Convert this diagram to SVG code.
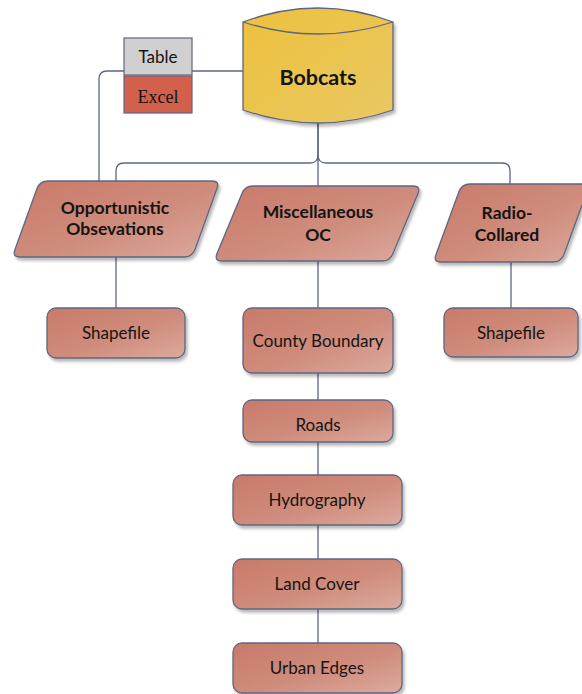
<svg xmlns="http://www.w3.org/2000/svg" width="582" height="694" viewBox="0 0 582 694">
  <defs>
    <linearGradient id="salmon" x1="0" y1="0" x2="1" y2="1">
      <stop offset="0" stop-color="#c97a69"/>
      <stop offset="0.55" stop-color="#cf8c7c"/>
      <stop offset="1" stop-color="#dcaa9d"/>
    </linearGradient>
    <linearGradient id="gold" x1="0" y1="0" x2="1" y2="1">
      <stop offset="0" stop-color="#eec13c"/>
      <stop offset="1" stop-color="#e9c863"/>
    </linearGradient>
    <filter id="shadow" x="-10%" y="-10%" width="125%" height="135%">
      <feDropShadow dx="2" dy="3" stdDeviation="1.8" flood-color="#000" flood-opacity="0.28"/>
    </filter>
  </defs>
  <style>
    .shape { fill: url(#salmon); stroke: #5f6582; stroke-width: 1.3; filter: url(#shadow); }
    .conn { fill: none; stroke: #5f6582; stroke-width: 1.3; }
    .lbl { font-family: Lato, "Open Sans", sans-serif; font-size: 17px; fill: #141414; text-anchor: middle; }
    .bold { font-weight: bold; font-size: 17.5px; }
  </style>

  <rect width="582" height="694" fill="#ffffff"/>

  <!-- connectors -->
  <g id="connectors">
    <path class="conn" d="M318,123 V155 Q318,163 310,163 H124 Q116,163 116,171 V182"/>
    <path class="conn" d="M318,155 Q318,163 326,163 H502 Q510,163 510,171 V185"/>
    <path class="conn" d="M318,123 V187"/>
    <path class="conn" d="M192,71 H243"/>
    <path class="conn" d="M124,71 H107 Q99,71 99,79 V182"/>
    <path class="conn" d="M116,257 V308"/>
    <path class="conn" d="M318,260 V308"/>
    <path class="conn" d="M318,373 V400"/>
    <path class="conn" d="M318,442 V475"/>
    <path class="conn" d="M318,525 V559"/>
    <path class="conn" d="M318,609 V643"/>
    <path class="conn" d="M511,262 V308"/>
  </g>

  <!-- database cylinder -->
  <g id="bobcats">
    <path d="M243,22 Q318,-6 393,22 V110 Q318,136 243,110 Z" fill="url(#gold)" stroke="#5f6582" stroke-width="1.3" filter="url(#shadow)"/>
    <path d="M243,22 Q318,46 393,22" fill="none" stroke="#5f6582" stroke-width="1.3"/>
    <text x="318" y="85" class="lbl" style="font-weight:bold;font-size:21.5px">Bobcats</text>
  </g>

  <!-- table / excel tag -->
  <g id="table-excel">
    <rect x="124" y="38" width="68" height="37" fill="#d0d0d0" stroke="#5f6582" stroke-width="1.2"/>
    <rect x="124" y="76" width="68" height="37" fill="#d3604a" stroke="#5f6582" stroke-width="1.2"/>
    <text x="158" y="63" class="lbl" style="font-size:17px">Table</text>
    <text x="158" y="103" text-anchor="middle" font-family="'Liberation Serif', serif" font-size="18" fill="#141414">Excel</text>
  </g>

  <!-- source categories -->
  <g id="opportunistic">
    <path class="shape" d="M48,181 H212 Q220,181 217,188.5 L195,249.5 Q192,257 184,257 H20 Q12,257 15,249.5 L37,188.5 Q40,181 48,181 Z"/>
    <text x="115" y="214" class="lbl bold">Opportunistic</text>
    <text x="115" y="235" class="lbl bold">Obsevations</text>
  </g>
  <g id="miscellaneous">
    <path class="shape" d="M253,186 H413 Q421,186 418,193.5 L393,253.5 Q390,261 382,261 H222 Q214,261 217,253.5 L242,193.5 Q245,186 253,186 Z"/>
    <text x="318" y="218" class="lbl bold">Miscellaneous</text>
    <text x="318" y="241" class="lbl bold">OC</text>
  </g>
  <g id="radio-collared">
    <path class="shape" d="M470,184 H582 Q590,184 587,191.5 L564,254.5 Q561,262 553,262 H441 Q433,262 436,254.5 L459,191.5 Q462,184 470,184 Z"/>
    <text x="507" y="219" class="lbl bold">Radio-</text>
    <text x="507" y="241" class="lbl bold">Collared</text>
  </g>

  <!-- data layers -->
  <g id="shapefile-opp">
    <rect class="shape" x="47" y="308" width="138" height="50" rx="9"/>
    <text x="116" y="339" class="lbl">Shapefile</text>
  </g>
  <g id="county-boundary">
    <rect class="shape" x="243" y="308" width="150" height="65" rx="9"/>
    <text x="318" y="347" class="lbl">County Boundary</text>
  </g>
  <g id="roads">
    <rect class="shape" x="243" y="400" width="150" height="42" rx="9"/>
    <text x="318" y="431" class="lbl">Roads</text>
  </g>
  <g id="hydrography">
    <rect class="shape" x="233" y="475" width="169" height="50" rx="9"/>
    <text x="317" y="506" class="lbl">Hydrography</text>
  </g>
  <g id="land-cover">
    <rect class="shape" x="233" y="559" width="169" height="50" rx="9"/>
    <text x="317" y="590" class="lbl">Land Cover</text>
  </g>
  <g id="urban-edges">
    <rect class="shape" x="233" y="643" width="169" height="50" rx="9"/>
    <text x="317" y="674" class="lbl">Urban Edges</text>
  </g>
  <g id="shapefile-radio">
    <rect class="shape" x="444" y="308" width="134" height="49" rx="9"/>
    <text x="511" y="339" class="lbl">Shapefile</text>
  </g>
</svg>
